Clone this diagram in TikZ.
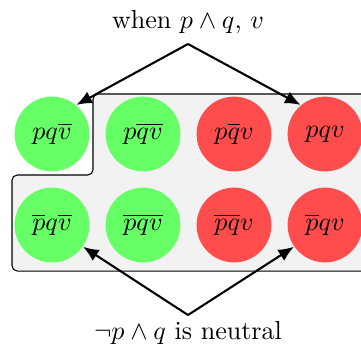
\documentclass[tikz,border=0pt]{standalone}
\usetikzlibrary{arrows.meta}
\begin{document}
\begin{tikzpicture}[x=0.0135cm, y=-0.0135cm,
    world/.style={circle, minimum size=1.01cm, inner sep=0pt},
    good/.style={world, fill=green!60!white},
    bad/.style={world, fill=red!70},
    pointer/.style={-{Latex[length=6pt,width=5pt]}, thick}]
\useasboundingbox (0,0) rectangle (361,351);

% zone grise en forme de L
\draw[fill=gray!10, rounded corners=2pt] (380,94) -- (93,94) -- (93,175) -- (12,175)
    -- (12,271) -- (380,271) -- cycle;

% mondes possibles
\node[good] (pqnv)   at (52,134)  {$pq\overline{v}$};
\node[good] (pnqv)   at (143,134) {$p\overline{qv}$};
\node[bad]  (pnqvv)  at (234,134) {$p\overline{q}v$};
\node[bad]  (pqv)    at (325,134) {$pqv$};
\node[good] (npqnv)  at (52,225)  {$\overline{p}q\overline{v}$};
\node[good] (npqvall) at (143,225) {$\overline{pqv}$};
\node[bad]  (npqv2)  at (234,225) {$\overline{pq}v$};
\node[bad]  (npqv)   at (325,225) {$\overline{p}qv$};

% etiquettes
\node (when) at (188,22) {when $p\wedge q$, $v$};
\node (neutral) at (188,333) {$\neg p\wedge q$ is neutral};
\coordinate (topfork) at (188,44);
\coordinate (botfork) at (188,315);

\draw[pointer] (topfork) -- (pqnv.50);
\draw[pointer] (topfork) -- (pqv.130);
\draw[pointer] (botfork) -- (npqnv.-35);
\draw[pointer] (botfork) -- (npqv.215);

\end{tikzpicture}
\end{document}
